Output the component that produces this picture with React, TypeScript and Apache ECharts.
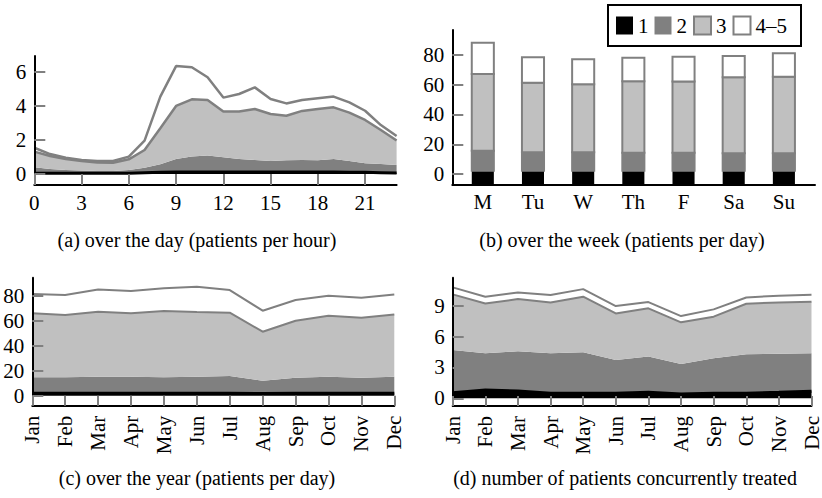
import React, { useEffect, useRef } from 'react';
import * as echarts from 'echarts';

// ---------- data ----------
const hours = ['0','1','2','3','4','5','6','7','8','9','10','11','12','13','14','15','16','17','18','19','20','21','22','23'];
const days = ['M', 'Tu', 'W', 'Th', 'F', 'Sa', 'Su'];
const months = ['Jan','Feb','Mar','Apr','May','Jun','Jul','Aug','Sep','Oct','Nov','Dec'];
const seriesNames = ['1', '2', '3', '4–5'];

// (a) patients per hour, by priority class
const hour1 = [0.05,0.05,0.05,0.05,0.05,0.05,0.05,0.08,0.1,0.12,0.12,0.12,0.12,0.12,0.12,0.12,0.12,0.12,0.12,0.12,0.1,0.1,0.08,0.06];
const hour2 = [0.34,0.24,0.18,0.15,0.13,0.13,0.18,0.29,0.47,0.76,0.9,0.96,0.86,0.76,0.7,0.64,0.68,0.7,0.68,0.76,0.66,0.53,0.51,0.47];
const hour3 = [0.92,0.77,0.65,0.56,0.5,0.48,0.63,1.04,2.11,3.11,3.36,3.26,2.68,2.78,2.99,2.76,2.62,2.88,3.01,3.03,2.84,2.54,1.99,1.43];
const hour45 = [0.23,0.11,0.08,0.06,0.08,0.1,0.16,0.55,1.86,2.34,1.88,1.33,0.82,1.03,1.27,0.88,0.72,0.64,0.63,0.63,0.6,0.54,0.29,0.27];

// (b) patients per day, by weekday
const week1 = [2.2,2.2,2.2,2.2,2.2,2.2,2.2];
const week2 = [13.5,12.4,12.4,12.1,12.1,11.7,11.8];
const week3 = [51.5,46.8,45.7,48.0,47.8,51.1,51.4];
const week45 = [21.1,17.0,16.8,15.9,16.8,14.3,15.7];

// (c) patients per day, by month
const month1 = [2,2,2,2,2,2,2,1.8,2,2,2,2];
const month2 = [12.7,12.7,13.2,13.2,12.7,13.2,13.7,10.2,12.4,13.2,12.4,13.2];
const month3 = [51.2,49.8,52,50.7,53,51.7,50.7,39.2,45.6,48.8,48,49.8];
const month45 = [15.4,16,17.8,17.8,18.2,20.3,18.1,16.8,16.5,16,16,16];

// (d) patients concurrently treated, by month
const conc1 = [0.55,0.81,0.71,0.49,0.49,0.49,0.58,0.42,0.49,0.49,0.58,0.68];
const conc2 = [4.14,3.56,3.85,3.88,3.98,3.23,3.47,2.91,3.39,3.78,3.76,3.69];
const conc3 = [5.41,4.85,5.08,4.95,5.4,4.53,4.69,4.05,4.05,4.92,4.98,5.02];
const conc45 = [0.68,0.65,0.65,0.71,0.74,0.71,0.61,0.61,0.71,0.61,0.65,0.67];

// tick labels
const ticksA = [0, 2, 4, 6];
const ticksB = [0, 20, 40, 60, 80];
const ticksC = [0, 20, 40, 60, 80];
const ticksD = [0, 3, 6, 9];

const captions = [
  '(a) over the day (patients per hour)',
  '(b) over the week (patients per day)',
  '(c) over the year (patients per day)',
  '(d) number of patients concurrently treated',
];

// ---------- styles ----------
const FONT = "'Liberation Serif', 'Times New Roman', Times, serif";
const BLACK = '#000000';
const DARK = '#808080';
const LIGHT = '#c0c0c0';
const WHITE = '#ffffff';
const B_MIN = -6.92;

const axisLine = { show: true, onZero: false, lineStyle: { color: '#000', width: 2 } };
const tick = (len: number) => ({ show: true, inside: true, length: len, lineStyle: { color: DARK, width: 2 } });
const labelStyle = { fontFamily: FONT, fontSize: 21, color: '#000' };

function yAxis(gridIndex: number, min: number, max: number, ticks: number[]) {
  return {
    type: 'value', gridIndex, min, max, z: 5,
    axisLine, splitLine: { show: false },
    axisTick: { ...tick(11), customValues: ticks },
    axisLabel: { ...labelStyle, margin: 8, customValues: ticks },
  };
}

function areaSeries(idx: number, s1: number[], s2: number[], s3: number[], s45: number[], lw: number) {
  const common = {
    type: 'line', xAxisIndex: idx, yAxisIndex: idx, stack: 'p' + idx,
    symbol: 'none', showSymbol: false, silent: true,
  };
  return [
    { ...common, name: seriesNames[0], data: s1, z: 3, itemStyle: { color: BLACK },
      lineStyle: { color: BLACK, width: 3 }, areaStyle: { color: BLACK, opacity: 1 } },
    { ...common, name: seriesNames[1], data: s2, itemStyle: { color: DARK },
      lineStyle: { color: DARK, width: 0 }, areaStyle: { color: DARK, opacity: 1 } },
    { ...common, name: seriesNames[2], data: s3, itemStyle: { color: LIGHT },
      lineStyle: { color: DARK, width: lw }, areaStyle: { color: LIGHT, opacity: 1 } },
    { ...common, name: seriesNames[3], data: s45, itemStyle: { color: WHITE },
      lineStyle: { color: DARK, width: lw } },
  ];
}

function barSeries() {
  const layers = [week1, week2, week3, week45];
  const fills = [BLACK, DARK, LIGHT, WHITE];
  const strokes = [BLACK, DARK, DARK, DARK];
  const cum: number[][] = [];
  layers.forEach((arr, k) => {
    cum.push(arr.map((v, i) => (k === 0 ? 0 : cum[k - 1][i]) + v));
  });
  return layers.map((arr, k) => ({
    type: 'custom', name: seriesNames[k], xAxisIndex: 1, yAxisIndex: 1,
    z: 2 + k * 0.01, silent: true,
    itemStyle: { color: fills[k] },
    encode: { x: 0, y: [1, 2] },
    data: arr.map((_, i) => [i, k === 0 ? B_MIN : cum[k - 1][i], cum[k][i]]),
    renderItem: (params: any, api: any) => {
      const x = api.value(0);
      const lo = api.coord([x, api.value(1)]);
      const hi = api.coord([x, api.value(2)]);
      const w = api.size([0.44, 0])[0];
      return {
        type: 'rect',
        shape: { x: lo[0] - w / 2, y: hi[1], width: w, height: lo[1] - hi[1] },
        style: { fill: fills[k], stroke: strokes[k], lineWidth: k === 0 ? 0 : 2 },
      };
    },
  }));
}

export default function App() {
  const ref = useRef<HTMLDivElement>(null);
  useEffect(() => {
    if (!ref.current) return;
    const chart = echarts.init(ref.current, null, { renderer: 'svg' });
    const option: any = {
      animation: false,
      backgroundColor: '#fff',
      textStyle: { fontFamily: FONT },
      legend: {
        left: 608, top: 5,
        padding: [10, 14, 10, 8],
        borderColor: '#000', borderWidth: 2,
        itemWidth: 17, itemHeight: 18, itemGap: 6,
        icon: 'rect', selectedMode: false,
        textStyle: { fontFamily: FONT, fontSize: 21, color: '#000' },
        data: [
          { name: seriesNames[0], itemStyle: { color: BLACK, borderWidth: 0 } },
          { name: seriesNames[1], itemStyle: { color: DARK, borderWidth: 0 } },
          { name: seriesNames[2], itemStyle: { color: LIGHT, borderColor: DARK, borderWidth: 2 } },
          { name: seriesNames[3], itemStyle: { color: WHITE, borderColor: DARK, borderWidth: 2 } },
        ],
      },
      grid: [
        { left: 34.3, top: 56, width: 362.3, height: 129 },
        { left: 452.3, top: 30, width: 362.7, height: 154.3 },
        { left: 32.3, top: 277.7, width: 362, height: 128 },
        { left: 452.7, top: 277.7, width: 361.6, height: 128.3 },
      ],
      xAxis: [
        { type: 'category', gridIndex: 0, data: hours, boundaryGap: false, z: 5,
          axisLine, axisTick: { ...tick(11), interval: 2 },
          axisLabel: { ...labelStyle, margin: 7, interval: 2 } },
        { type: 'value', gridIndex: 1, min: -0.608, max: 6.62, z: 5,
          axisLine, splitLine: { show: false }, axisTick: { show: false },
          axisLabel: { ...labelStyle, margin: 7, customValues: [0, 1, 2, 3, 4, 5, 6],
            formatter: (v: number) => days[Math.round(v)] } },
        { type: 'category', gridIndex: 2, data: months, boundaryGap: false, z: 5,
          axisLine, axisTick: { ...tick(10), interval: 0 },
          axisLabel: { ...labelStyle, margin: 10, interval: 0, rotate: 90 } },
        { type: 'category', gridIndex: 3, data: months, boundaryGap: false, z: 5,
          axisLine, axisTick: { ...tick(10), interval: 0 },
          axisLabel: { ...labelStyle, margin: 10, interval: 0, rotate: 90 } },
      ],
      yAxis: [
        yAxis(0, -0.645, 6.92, ticksA),
        yAxis(1, B_MIN, 96.8, ticksB),
        yAxis(2, -8, 94.4, ticksC),
        yAxis(3, -0.75, 11.72, ticksD),
      ],
      series: [
        ...areaSeries(0, hour1, hour2, hour3, hour45, 2.5),
        ...barSeries(),
        ...areaSeries(2, month1, month2, month3, month45, 2),
        ...areaSeries(3, conc1, conc2, conc3, conc45, 2),
      ],
      graphic: [
        { x: 197, y: 240, text: captions[0] },
        { x: 622, y: 240, text: captions[1] },
        { x: 197, y: 478, text: captions[2] },
        { x: 625, y: 478, text: captions[3] },
      ].map((c) => ({
        type: 'text', x: c.x, y: c.y, silent: true,
        style: { text: c.text, fontFamily: FONT, fontSize: 20, fill: '#000', align: 'center', verticalAlign: 'middle' },
      })),
    };
    chart.setOption(option);
    return () => chart.dispose();
  }, []);
  return <div ref={ref} style={{ position: 'absolute', left: 0, top: 0, width: 822, height: 498, background: '#fff' }} />;
}
